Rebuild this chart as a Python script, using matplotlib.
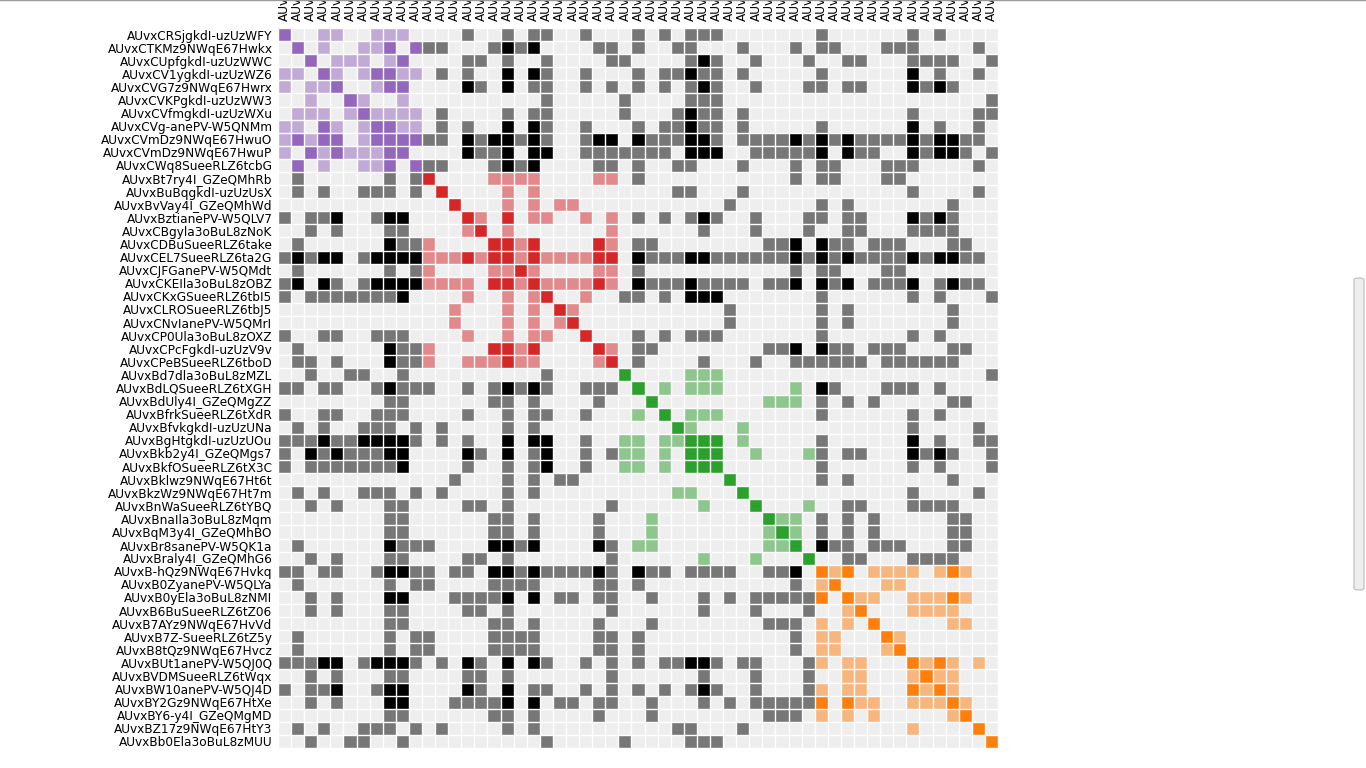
import numpy as np
import matplotlib.pyplot as plt
from matplotlib.colors import to_rgb
from matplotlib.patches import FancyBboxPatch

labels = [
    "AUvxCRSjgkdI-uzUzWFY", "AUvxCTKMz9NWqE67Hwkx", "AUvxCUpfgkdI-uzUzWWC",
    "AUvxCV1ygkdI-uzUzWZ6", "AUvxCVG7z9NWqE67Hwrx", "AUvxCVKPgkdI-uzUzWW3",
    "AUvxCVfmgkdI-uzUzWXu", "AUvxCVg-anePV-W5QNMm", "AUvxCVmDz9NWqE67HwuO",
    "AUvxCVmDz9NWqE67HwuP", "AUvxCWq8SueeRLZ6tcbG", "AUvxBt7ry4I_GZeQMhRb",
    "AUvxBuBqgkdI-uzUzUsX", "AUvxBvVay4I_GZeQMhWd", "AUvxBztianePV-W5QLV7",
    "AUvxCBgyla3oBuL8zNoK", "AUvxCDBuSueeRLZ6take", "AUvxCEL7SueeRLZ6ta2G",
    "AUvxCJFGanePV-W5QMdt", "AUvxCKEIla3oBuL8zOBZ", "AUvxCKxGSueeRLZ6tbI5",
    "AUvxCLROSueeRLZ6tbJ5", "AUvxCNvIanePV-W5QMrI", "AUvxCP0Ula3oBuL8zOXZ",
    "AUvxCPcFgkdI-uzUzV9v", "AUvxCPeBSueeRLZ6tboD", "AUvxBd7dla3oBuL8zMZL",
    "AUvxBdLQSueeRLZ6tXGH", "AUvxBdUly4I_GZeQMgZZ", "AUvxBfrkSueeRLZ6tXdR",
    "AUvxBfvkgkdI-uzUzUNa", "AUvxBgHtgkdI-uzUzUOu", "AUvxBkb2y4I_GZeQMgs7",
    "AUvxBkfOSueeRLZ6tX3C", "AUvxBklwz9NWqE67Ht6t", "AUvxBkzWz9NWqE67Ht7m",
    "AUvxBnWaSueeRLZ6tYBQ", "AUvxBnaIla3oBuL8zMqm", "AUvxBqM3y4I_GZeQMhBO",
    "AUvxBr8sanePV-W5QK1a", "AUvxBraly4I_GZeQMhG6", "AUvxB-hQz9NWqE67Hvkq",
    "AUvxB0ZyanePV-W5QLYa", "AUvxB0yEla3oBuL8zNMI", "AUvxB6BuSueeRLZ6tZ06",
    "AUvxB7AYz9NWqE67HvVd", "AUvxB7Z-SueeRLZ6tZ5y", "AUvxB8tQz9NWqE67Hvcz",
    "AUvxBUt1anePV-W5QJ0Q", "AUvxBVDMSueeRLZ6tWqx", "AUvxBW10anePV-W5QJ4D",
    "AUvxBY2Gz9NWqE67HtXe", "AUvxBY6-y4I_GZeQMgMD", "AUvxBZ17z9NWqE67HtY3",
    "AUvxBb0Ela3oBuL8zMUU",
]

groups = [0] * 11 + [1] * 15 + [2] * 15 + [3] * 14
group_colors = ['#9467bd', '#d62728', '#2ca02c', '#ff7f0e']

# '.' = nothing, '1' = weak link, '2' = strong link
rows = [
    "2..11..111 ....1..1.1 1..1...1.1 .111...... .1......1. 1....",
    ".2.1..112. 211...1212 ....11.1.. 11...1...1 .11...111. ...1.",
    "..2.111.12 ....11.1.. 1....11... .121..1... 1..11...11 11..1",
    "11.21.1221 1.1.1..2.2 1..1...1.1 1211.1.... .1......2. 1..1.",
    "1.112..122 ....21.2.1 1..1.1.1.1 .121..1... 11.11...21 21...",
    "..1..21..1 .......... 1.....1... .111...... .......... ....1",
    ".111.12111 1.1....1.1 1.....1... 1211.1.... ........1. ...11",
    "11.21.1221 1.1.1..2.2 1..1...1.1 1211.1.... .1......2. 1..1.",
    "12122.1222 211.212212 1..122.211 1221.11112 1212111121 2211.",
    "1.21211122 ....2112.2 2..1111111 .222..1111 12.211..21 221.1",
    ".2.1..112. 211...1212 ....11.1.. 11...1...1 .11...111. ...1.",
    ".1......1. 12....1111 ....11.1.. .........1 .11...11.. .....",
    ".1.1..111. 1.2....1.1 .......... 11...1.... ........1. ...1.",
    ".......... ...2...1.1 .11....... ....1..... .1.1...... .1...",
    "1.112..122 ....21.2.1 1..1.1.1.1 .121..1... 11.11...21 21...",
    "..1.1...11 ....12.1.. .....1.... ..1...1... 1..11...11 11...",
    ".1......21 11....2212 ....21.11. .......112 .211.111.. .11..",
    "12122.1222 2111212212 111122.211 1221111112 1212111121 2211.",
    ".1......1. 11....1121 ....11.1.. .........1 .11...11.. .....",
    "12.21.1222 21111.2212 111121.211 121111.112 .212.1112. 1211.",
    "1.11111112 ....1..1.1 2..1..11.1 .222...... .1......1. 1...1",
    ".......... ...1...1.1 .21....... ....1..... .1.1...... .1...",
    ".......... ...1...1.1 .12....... ....1..... .1.1...... .1...",
    "1..11..111 ....1..1.1 1..2...1.1 .111...... .1......1. 1....",
    ".1......21 11....2212 ....21.11. .......112 .211.111.. .11..",
    ".11.1...21 11..111211 ....12.1.. ..1...1..1 11111.1111 11...",
    "..1..11..1 .......... 1.....2... .111...... .......... ....1",
    "11.11..121 11..1.1212 1..111.2.1 .111.....1 .21...111. 1....",
    "........11 ......11.1 ....1...2. .......111 .1.1.1.... .11..",
    "1..11..111 ....1..1.1 1..1...1.2 .111...... .1......1. 1....",
    ".1.1..111. 1.1....1.1 .......... 21...1.... ........1. ...1.",
    "1112112222 1.1.1..2.2 2..1..11.1 1222.1.... .1......2. 1..11",
    "1.21211122 ....21.2.1 2..1.111.1 .222..1... 11.11...21 21..1",
    "1.11111112 ....1..1.1 2..1..11.1 .222...... .1......1. 1...1",
    ".......... ...1...1.1 .11....... ....2..... .1.1...... .1...",
    ".1.1..111. 1.1....1.1 .......... 11...2.... ........1. ...1.",
    "..1.1...11 ....11.1.. .....1.... ..1...2... 1..11...11 11...",
    "........11 ......11.1 ....1...1. .......211 .1.1.1.... .11..",
    "........11 ......11.1 ....1...1. .......121 .1.1.1.... .11..",
    ".1......21 11....2212 ....21.11. .......112 .211.111.. .11..",
    "..1.1...11 ....11.1.. .....1.... ..1...1... 2..11...11 11...",
    "11.11..122 11.11.2212 111121.211 .1111..112 .212.1111. 121..",
    ".1......1. 11....1111 ....11.1.. .........1 .12...11.. .....",
    "..1.1...22 ...11112.2 .11.11..1. ..1.1.1111 12.211..11 121..",
    "..1.1...11 ....11.1.. .....1.... ..1...1... 1..12...11 11...",
    "........11 ......11.1 ....1...1. .......111 .1.1.2.... .11..",
    ".1......1. 11....1111 ....11.1.. .........1 .11...21.. .....",
    ".1......1. 11....1111 ....11.1.. .........1 .11...12.. .....",
    "11122.1222 1.1.21.2.2 1..1.1.1.1 1221.11... 11.11...21 21.1.",
    "..1.1...11 ....11.1.. .....1.... ..1...1... 1..11...12 11...",
    "1.112..122 ....21.2.1 1..1.1.1.1 .121..1... 11.11...21 21...",
    "..1.1...22 ...11112.2 .11.11..1. ..1.1.1111 12.211..11 121..",
    "........11 ......11.1 ....1...1. .......111 .1.1.1.... .12..",
    ".1.1..111. 1.1....1.1 .......... 11...1.... ........1. ...2.",
    "..1..11..1 .......... 1.....1... .111...... .......... ....2",
]
cells = [r.replace(' ', '') for r in rows]

n = len(labels)
bg = np.array(to_rgb('#eeeeee'))
img = np.tile(bg, (n, n, 1))
for i, row in enumerate(cells):
    for j, ch in enumerate(row):
        if ch == '.':
            continue
        alpha = 0.5 if ch == '1' else 1.0
        if groups[i] == groups[j]:
            base = np.array(to_rgb(group_colors[groups[i]]))
        else:
            base = np.zeros(3)
        img[i, j] = alpha * base + (1 - alpha) * bg

fig = plt.figure(figsize=(13.66, 7.68), dpi=100)
ax = fig.add_axes([278 / 1366, 20 / 768, 720 / 1366, 720 / 768])
ax.imshow(img, interpolation='nearest', extent=(0, n, n, 0), aspect='auto')
ax.hlines(np.arange(n + 1), 0, n, color='white', lw=1)
ax.vlines(np.arange(n + 1), 0, n, color='white', lw=1)
ax.set_xlim(0, n)
ax.set_ylim(n, 0)

# column labels run off the top of the page, as in the original
ax.set_yticks(np.arange(n) + 0.5, labels, fontsize=8.7)
ax.xaxis.tick_top()
ax.set_xticks(np.arange(n) + 0.5, labels, rotation=90, fontsize=8.7)
ax.tick_params(axis='y', length=0, pad=4)
ax.tick_params(axis='x', length=0, pad=5)
for s in ax.spines.values():
    s.set_visible(False)

# browser chrome: top border and scrollbar
fig.add_artist(plt.Line2D([0, 1], [0.9995, 0.9995], color='#999999', lw=1))
fig.add_artist(FancyBboxPatch((1354 / 1366, 1 - 590 / 768), 10 / 1366, 312 / 768,
                              boxstyle='round,pad=0,rounding_size=0.003',
                              fc='#eeeeee', ec='#bbbbbb', lw=0.8))

fig.savefig('out.png', dpi=100)
